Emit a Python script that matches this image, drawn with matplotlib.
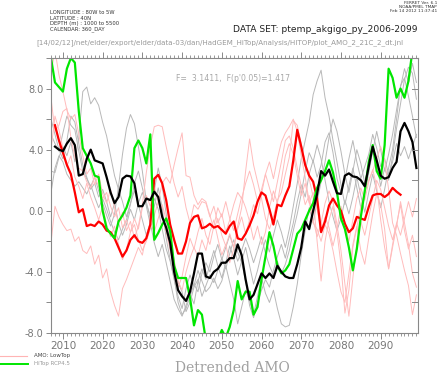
import numpy as np
import matplotlib
matplotlib.use('Agg')
import matplotlib.pyplot as plt
from matplotlib.ticker import MultipleLocator, FormatStrFormatter

# yearly detrended AMO values
years_thin = list(range(2007, 2100))
years_black = list(range(2008, 2100))
years_red = list(range(2008, 2096))
years_green = list(range(2007, 2099))

black_mean = [
    4.2, 4.0, 3.9, 4.4, 4.75, 4.3, 2.3, 2.4, 3.4, 4.0,
    3.3, 3.2, 3.1, 2.2, 1.2, 0.5, 0.9, 2.1, 2.3, 2.25,
    1.8, 0.3, 0.3, 0.8, 0.7, 1.25, 0.9, -0.4, -1.1, -2.1,
    -4.0, -5.2, -5.6, -5.9, -5.3, -4.1, -2.8, -2.8, -4.3, -4.4,
    -4.0, -3.8, -3.4, -3.4, -3.1, -3.1, -2.2, -2.9, -4.5, -5.8,
    -5.5, -4.8, -4.1, -4.4, -4.1, -4.4, -3.6, -4.0, -4.3, -4.4,
    -4.4, -3.5, -2.4, -0.7, -1.2, 0.0, 1.1, 2.6, 2.3, 2.7,
    1.9, 1.15, 1.1, 2.3, 2.45, 2.25, 2.2, 2.0, 1.6, 2.9,
    4.2, 3.3, 2.3, 2.1, 2.2, 2.8, 3.2, 5.2, 5.75, 5.2,
    4.5, 2.8,
]

red_lowtop = [
    5.6, 4.6, 3.8, 3.0, 2.4, 1.2, -0.1, 0.1, -1.0, -0.9,
    -1.0, -0.7, -0.9, -1.3, -1.4, -1.8, -2.4, -3.0, -2.6, -1.9,
    -1.6, -2.0, -2.1, -1.8, -0.9, 2.1, 2.35, 1.8, 0.7, -0.9,
    -1.9, -2.8, -2.8, -2.0, -0.8, -0.4, -0.3, -1.15, -1.05, -0.85,
    -1.1, -1.0, -1.25, -1.5, -1.0, -0.7, -1.8, -1.9, -1.5, -0.95,
    -0.3, 0.6, 1.2, 1.0, 0.1, -0.9, 0.4, 0.3, 1.0, 1.6,
    3.3, 5.3, 4.2, 3.0, 2.3, 1.9, 0.8, -1.4, -0.7, 0.35,
    0.8, 0.35, 0.0, -0.85, -1.4, -1.15, -0.4, -0.5, -0.6, 0.25,
    1.0, 1.1, 1.1, 0.9, 1.1, 1.5, 1.25, 1.05,
]

green_hitop = [
    10.0, 8.4, 8.1, 7.8, 9.3, 10.0, 9.7, 6.5, 4.1, 3.6,
    3.1, 2.3, 2.2, 0.0, -1.15, -1.5, -1.8, -0.7, -0.3, 0.2,
    1.0, 4.1, 4.6, 4.1, 3.1, 5.0, -1.9, -1.45, -0.9, -0.5,
    -1.3, -3.6, -4.4, -4.4, -4.4, -5.7, -7.5, -6.5, -6.8, -8.5,
    -9.0, -9.0, -8.5, -7.8, -8.3, -7.6, -6.5, -4.6, -5.8, -5.3,
    -5.3, -6.8, -6.3, -4.5, -3.0, -1.4, -2.3, -3.6, -4.1, -3.9,
    -3.5, -2.5, -1.5, -1.2, -0.6, 0.0, 0.5, 1.5, 2.0, 2.6,
    3.3, 2.5, 1.2, -0.5, -1.2, -2.4, -3.9, -2.5, -0.4, 1.3,
    3.2, 4.3, 2.6, 2.1, 4.3, 9.3, 8.7, 7.4, 8.0, 7.4,
    8.5, 10.5,
]

pink_members = [
    [7.4, 5.2, 5.6, 6.5, 6.7, 4.8, 3.5, 2.8, 2.6, 1.9,
     1.5, 2.2, 1.6, 0.8, 1.2, 0.3, -0.4, 0.2, -1.1, -0.6,
     -1.4, -0.9, -1.9, -2.6, -2.0, -1.2, -0.3, 0.6, 1.8, 2.2,
     1.8, 3.0, 4.1, 5.1, 2.3, 2.2, 1.0, 0.4, 0.8, 0.6,
     -0.3, -1.2, -0.5, -1.6, -2.3, -1.5, -2.4, -1.0, 0.2, 2.6,
     4.7, 3.0, 1.9, 0.8, -0.5, -1.2, -0.4, 0.7, 1.2, 2.4,
     3.5, 5.9, 5.6, 4.4, 3.1, 2.1, 0.9, -2.0, -4.6, -2.0,
     -0.6, 0.3, -1.4, -3.5, -6.7, -5.2, -2.4, -1.1, 0.3, 1.2,
     2.0, 2.6, 3.4, 4.2, 3.3, 1.4, -0.8, -1.6, -2.8, -3.9,
     -4.9, -6.8, -5.5],
    [9.0, 10.5, 8.9, 7.8, 6.6, 6.0, 6.3, 5.0, 3.6, 2.4,
     2.8, 1.7, 2.4, 1.1, 0.5, 1.4, 0.2, -0.8, -0.1, -1.3,
     -0.7, -1.8, -1.0, 0.4, 2.5, 4.2, 5.5, 5.6, 5.5, 4.2,
     3.0, 1.8, 0.9, 1.6, 0.2, -0.8, 0.4, 0.1, 0.6, 0.5,
     -0.4, 0.3, -0.8, -0.2, -1.4, -0.6, 0.4, 1.2, 0.8, 1.8,
     2.6, 1.7, 0.6, 1.4, 2.4, 3.2, 2.1, 3.4, 4.5, 5.1,
     5.5, 6.0, 5.2, 3.6, 2.2, 0.6, -0.8, -1.2, -2.0, -0.9,
     -1.5, -2.6, -4.0, -5.3, -6.0, -4.1, -2.2, -1.0, -2.6, -3.5,
     -1.8, -0.2, 1.1, 0.4, -1.2, -3.8, -2.4, -1.0, 0.6, -0.8,
     -2.2, -4.1, -5.0],
    [-2.1, 0.3, -0.4, -0.9, -1.3, -1.2, -2.0, -1.7, -2.6, -2.8,
     -2.3, -3.5, -2.9, -4.4, -3.8, -5.3, -6.2, -6.9, -5.1, -4.5,
     -3.8, -3.1, -2.4, -2.9, -1.6, -0.8, -1.4, -0.5, 0.4, -0.6,
     -1.8, -3.2, -4.6, -5.2, -4.0, -3.1, -2.4, -3.0, -1.9, -2.6,
     -1.4, -0.6, -1.8, -2.9, -2.2, -3.4, -2.5, -1.2, -0.4, -1.5,
     -0.6, 0.4, -0.2, 1.1, 2.4, 1.5, 0.6, 1.9, 3.2, 4.6,
     4.9, 4.1, 2.8, 1.6, 0.4, 1.0, -0.6, -1.7, -0.8, 0.5,
     1.3, 0.6, -0.9, -2.6, -4.8, -6.9, -4.4, -2.1, -0.7, -1.6,
     -0.4, 0.8, 2.0, 1.4, 0.2, -1.0, -1.9, -0.9, 0.4, -1.3,
     -2.5, -1.6, -3.0],
    [4.0, 6.2, 5.3, 4.1, 2.9, 3.6, 2.2, 1.6, 0.8, 1.8,
     0.9, 0.2, -0.6, 0.3, -0.9, -1.7, -1.0, -2.2, -3.2, -2.5,
     -1.4, -0.5, -1.2, 0.2, 1.0, 0.3, 1.6, 0.6, -0.3, -1.4,
     -2.6, -3.7, -5.0, -4.3, -3.0, -1.8, -2.5, -1.4, -0.5, -1.6,
     -2.2, -1.0, 0.2, -0.4, 0.6, -0.5, -1.3, -0.2, 0.9, 0.2,
     -0.7, -1.9, -1.0, -2.2, -1.4, 0.2, 1.3, 0.5, 2.0, 3.6,
     4.4, 3.7, 2.3, 1.0, 1.8, 0.5, 1.2, 0.1, -1.3, -0.4,
     -1.1, -2.3, -1.2, 0.3, -0.8, -2.0, -0.6, 0.8, 1.5, 0.7,
     1.9, 2.7, 1.6, -0.6, -2.4, -3.8, -2.2, -0.8, -1.6, -0.5,
     0.6, -0.4, 0.8],
]

gray_members = [
    [2.6, 2.5, 3.5, 4.2, 3.6, 4.5, 3.2, 4.8, 7.8, 8.1,
     7.0, 7.4, 6.9, 5.8, 4.9, 3.6, 2.3, 1.4, 0.6, -0.4,
     0.5, 1.3, 0.4, -0.6, -1.6, -0.8, -2.1, -3.0, -2.2, -3.4,
     -4.6, -5.8, -6.4, -6.9, -6.2, -5.4, -6.1, -4.6, -3.8, -4.5,
     -3.5, -2.6, -3.6, -4.4, -3.4, -2.3, -3.1, -4.2, -3.3, -2.4,
     -3.6, -4.8, -3.9, -2.8, -1.9, -2.7, -1.6, -0.6, -1.4, -2.4,
     -1.2, 0.3, 1.8, 3.4, 4.6, 5.8, 7.6, 8.5, 9.2, 7.4,
     6.2, 4.6, 3.2, 1.7, 0.4, 1.6, 2.8, 1.5, 0.2, 1.1,
     2.5, 3.9, 5.2, 4.0, 2.6, 3.7, 5.0, 6.6, 8.1, 9.3,
     8.4, 9.65, 8.4],
    [5.0, 4.4, 3.9, 5.1, 6.2, 5.6, 5.3, 3.9, 2.6, 2.1,
     1.6, 2.2, 1.3, 0.5, -0.3, -1.0, -0.2, 1.6, 3.7, 5.4,
     6.3, 5.7, 4.2, 2.6, 0.6, -0.5, 0.3, 1.5, 0.2, -1.8,
     -3.2, -4.5, -5.6, -6.4, -5.1, -4.2, -4.9, -3.9, -4.6, -5.3,
     -5.0, -4.4, -5.1, -4.6, -3.6, -4.7, -5.8, -7.4, -6.3, -5.2,
     -5.9, -6.8, -5.6, -4.4, -5.4, -6.0, -5.2, -6.4, -7.4, -7.6,
     -7.5, -6.3, -4.8, -2.9, -1.3, 0.2, -0.8, 0.6, 1.9, 3.2,
     4.8, 6.0, 5.2, 3.9, 2.4, 1.2, 2.6, 4.0, 3.1, 1.8,
     2.9, 4.2, 3.1, 1.6, 2.8, 2.0, 3.6, 5.4, 7.0, 8.6,
     9.4, 9.0, 7.3],
    [1.2, 2.8, 3.6, 3.2, 2.4, 2.0, 1.6, 1.9, 1.5, 1.1,
     1.7, 0.9, 0.2, 0.8, 0.1, -0.7, -1.4, -1.9, -1.2, -0.6,
     0.4, 1.8, 2.6, 1.5, 0.3, -0.9, 1.3, 2.8, 1.6, -0.2,
     -2.0, -3.8, -4.7, -5.3, -6.6, -6.0, -5.0, -4.5, -5.6, -4.9,
     -4.2, -4.7, -3.9, -3.1, -3.8, -2.8, -1.9, -2.7, -3.4, -4.6,
     -6.2, -7.0, -6.0, -5.2, -4.5, -5.0, -3.9, -3.0, -2.2, -3.1,
     -1.9, -0.8, 0.6, 1.7, 0.9, 2.4, 3.3, 2.2, 3.0, 4.5,
     5.1, 3.8, 2.1, 1.2, 2.0, 3.4, 4.6, 3.2, 2.1, 2.9,
     3.7, 5.0, 4.1, 2.9, 3.4, 2.4, 3.2, 4.4, 3.6, 4.2,
     3.4, 4.2, 5.0],
    [6.0, 5.0, 4.0, 3.4, 4.6, 6.2, 5.8, 4.4, 3.0, 2.2,
     1.4, 1.8, 0.9, 1.4, 0.6, -0.4, 0.5, -0.8, -1.6, -0.9,
     0.1, -0.6, 0.5, 1.2, 0.4, -0.3, 0.8, 0.1, -1.2, -2.5,
     -3.3, -4.4, -6.0, -6.8, -6.4, -5.6, -4.8, -5.3, -4.1, -3.4,
     -4.0, -3.0, -2.2, -3.2, -2.4, -1.6, -2.4, -3.3, -2.6, -1.8,
     -2.5, -3.4, -2.6, -1.7, -2.8, -3.6, -4.2, -3.3, -4.1, -3.5,
     -2.6, -1.3, -0.2, 1.1, 2.6, 3.8, 3.2, 4.3, 3.4, 2.0,
     0.6, -0.4, -1.3, -0.5, 0.7, -0.2, 0.9, 2.2, 1.0, -0.1,
     1.2, 2.4, 1.3, 0.2, 1.4, 2.8, 4.0, 6.0, 8.2, 8.7,
     7.5, 6.2, 4.8],
]

header_left = ['LONGITUDE : 80W to 5W', 'LATITUDE : 40N',
               'DEPTH (m) : 1000 to 5500', 'CALENDAR: 360_DAY']
header_right = ['FERRET Ver. 6.1', 'NOAA/PMEL TMAP', 'Feb 14 2012 11:37:41']

W, H = 440, 374
fig = plt.figure(figsize=(W / 100, H / 100), dpi=100)
fig.set_facecolor('white')
ax = fig.add_axes([51 / W, 1 - 333 / H, 367 / W, 275 / H])

axis_grey = '#888888'

# thin ensemble members first, thick means on top
for vals in gray_members:
    ax.plot(years_thin, vals, color='#b8b8b8', lw=0.7)
for vals in pink_members:
    ax.plot(years_thin, vals, color='#ffbcbc', lw=0.7)
ax.plot(years_red, red_lowtop, color='#ff0000', lw=1.6)
ax.plot(years_green, green_hitop, color='#00e600', lw=1.6)
ax.plot(years_black, black_mean, color='black', lw=1.6)

ax.set_xlim(2007, 2099.4)
ax.set_ylim(-8, 10)

for sp in ax.spines.values():
    sp.set_color(axis_grey)
    sp.set_linewidth(0.8)

ax.xaxis.set_major_locator(MultipleLocator(10))
ax.xaxis.set_minor_locator(MultipleLocator(1))
ax.yaxis.set_major_locator(MultipleLocator(4))
ax.yaxis.set_minor_locator(MultipleLocator(2))
ax.yaxis.set_major_formatter(FormatStrFormatter('%.1f'))
ax.set_xticks([y for y in range(2010, 2100, 10)])

ax.tick_params(axis='x', which='both', direction='out', top=True,
               colors=axis_grey, labelcolor='#777777', labelsize=7.5, pad=2)
ax.tick_params(axis='x', which='major', length=4, width=0.7)
ax.tick_params(axis='x', which='minor', length=2.2, width=0.6)
ax.tick_params(axis='y', which='both', direction='out', length=3.5, width=0.7,
               colors=axis_grey, labelcolor='#777777', labelsize=7, pad=2)

# right side ticks point inwards
for y in np.arange(-6, 10, 2):
    ax.plot([2098.0, 2099.4], [y, y], color=axis_grey, lw=0.7, clip_on=False)

ax.text(0.34, 0.925, "F=  3.1411,  F(p'0.05)=1.417", transform=ax.transAxes,
        fontsize=5.6, color='#a8a8a8', ha='left', va='center')

# header
for i, s in enumerate(header_left):
    fig.text(50 / W, 1 - (12.5 + i * 5.6) / H, s, fontsize=3.8, color='#333333',
             ha='left', va='center')
for i, s in enumerate(header_right):
    fig.text(437 / W, 1 - (3.5 + i * 4) / H, s, fontsize=3.1, color='#333333',
             ha='right', va='center')
fig.text(417 / W, 1 - 30 / H, 'DATA SET: ptemp_akgigo_py_2006-2099', fontsize=6.6,
         color='#222222', ha='right', va='center')
fig.text(36 / W, 1 - 43 / H,
         '[14/02/12]/net/elder/export/elder/data-03/dan/HadGEM_HiTop/Analysis/HITOP/plot_AMO_2_21C_2_dt.jnl',
         fontsize=5.1, color='#999999', ha='left', va='center')

# legend
fig.lines.append(plt.Line2D([0, 27 / W], [1 - 355.5 / H] * 2, color='#ffb4b4', lw=0.8,
                            transform=fig.transFigure))
fig.lines.append(plt.Line2D([0, 28 / W], [1 - 364 / H] * 2, color='#00e600', lw=1.4,
                            transform=fig.transFigure))
fig.text(34 / W, 1 - 355.5 / H, 'AMO: LowTop', fontsize=4, color='#444444',
         ha='left', va='center')
fig.text(34 / W, 1 - 364 / H, 'HiTop RCP4.5', fontsize=4, color='#999999',
         ha='left', va='center')

fig.text(232 / W, 1 - 368.5 / H, 'Detrended AMO', fontsize=10, family='DejaVu Serif',
         color='#a0a0a0', ha='center', va='center')

fig.savefig('out.png', dpi=100)
